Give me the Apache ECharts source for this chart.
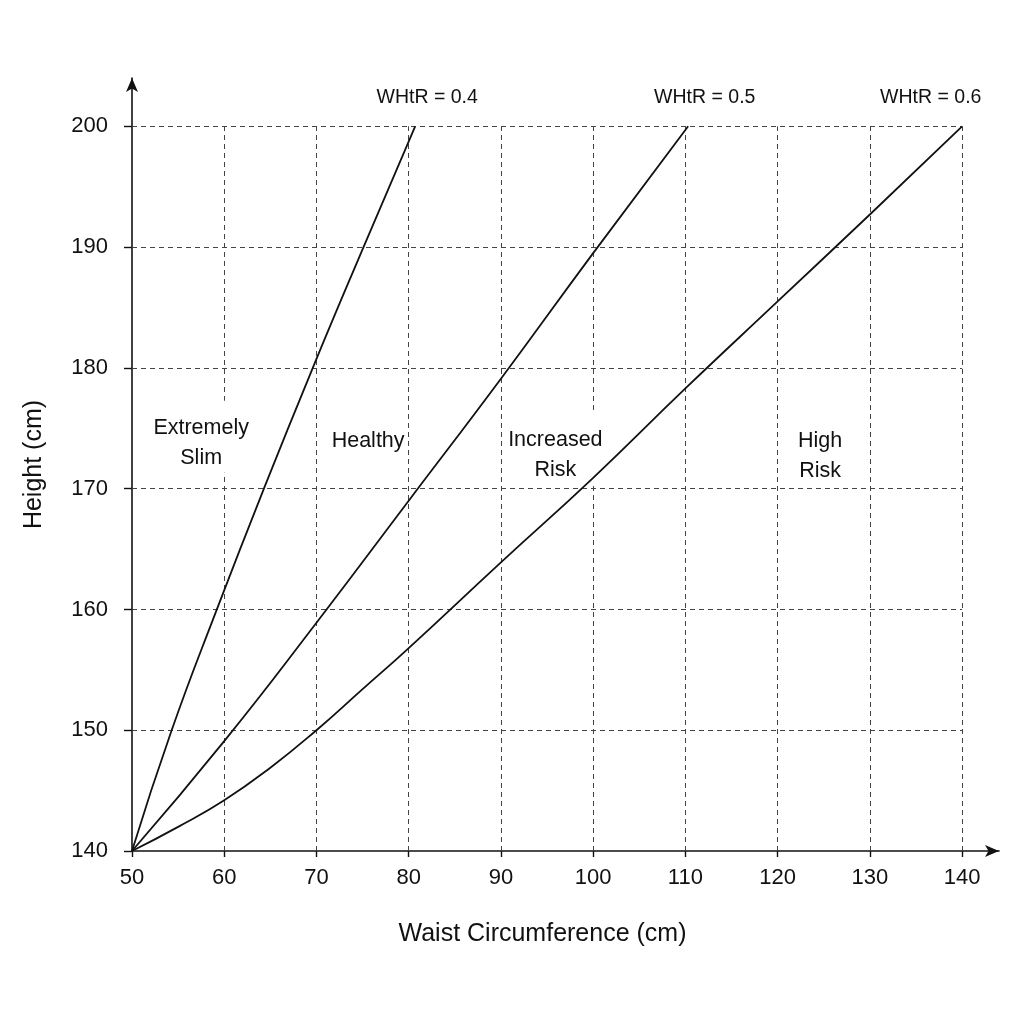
<!DOCTYPE html>
<html>
<head>
<meta charset="utf-8">
<script src="https://cdn.jsdelivr.net/npm/echarts@6/dist/echarts.min.js"></script>
<style>
  html, body { margin: 0; padding: 0; background: #fff; }
  #chart1 { width: 1024px; height: 1024px; }
</style>
</head>
<body>
<div id="chart1"></div>
<script>
// data: [waist cm, height cm]
var xTicks = [50, 60, 70, 80, 90, 100, 110, 120, 130, 140];
var yTicks = [140, 150, 160, 170, 180, 190, 200];

var whtr04 = [[50, 140], [54.3, 150], [59.2, 160], [64.3, 170], [69.6, 180], [75.1, 190], [80.7, 200]];
var whtr05 = [[50, 140], [60, 149.1], [70, 158.9], [80, 169.0], [90, 179.1], [100, 189.5], [110.3, 200]];
var whtr06 = [[50, 140], [55, 142.0], [60, 144.2], [65, 146.9], [70, 150], [75, 153.4], [80, 156.8], [90, 163.9], [100, 170.9], [110, 178.3], [120, 185.5], [130, 192.7], [140, 200]];

var lineNames = ['WHtR = 0.4', 'WHtR = 0.5', 'WHtR = 0.6'];
var lineNameX = [82.0, 112.1, 136.6];
var lineNameY = [202.4, 202.4, 202.4];

var zoneNames = ['Extremely\nSlim', 'Healthy', 'Increased\nRisk', 'High\nRisk'];
var zoneX = [57.5, 75.6, 95.9, 124.6];
var zoneY = [173.8, 173.9, 172.8, 172.7];

var chartDom = document.getElementById('chart1');
var myChart = echarts.init(chartDom);
var option;

var font = 'Liberation Sans, Arial, sans-serif';

// dashed grid only inside the 50-140 x 140-200 box
var gridLines = [];
xTicks.slice(1).forEach(function (x) {
    gridLines.push([{coord: [x, yTicks[0]]}, {coord: [x, yTicks[yTicks.length - 1]]}]);
});
yTicks.slice(1).forEach(function (y) {
    gridLines.push([{coord: [xTicks[0], y]}, {coord: [xTicks[xTicks.length - 1], y]}]);
});

function curve(name, data) {
    return {
        name: name,
        type: 'line',
        data: data,
        smooth: 0.5,
        showSymbol: false,
        z: 8,
        lineStyle: {color: '#111', width: 1.8}
    };
}

var measureCtx = document.createElement('canvas').getContext('2d');
function textWidth(str, size) {
    measureCtx.font = size + 'px ' + font;
    return Math.max.apply(null, str.split('\n').map(function (s) {
        return measureCtx.measureText(s).width;
    }));
}

// text placed at data coordinates, optionally on a white box
function textSeries(names, xs, ys, size, lineH, boxH) {
    return {
        type: 'custom',
        z: 4,
        silent: true,
        data: names.map(function (n, i) { return [xs[i], ys[i], i]; }),
        renderItem: function (params, api) {
            var pt = api.coord([api.value(0), api.value(1)]);
            var label = names[api.value(2)];
            var children = [];
            if (boxH) {
                var w = textWidth(label, size) + 6;
                children.push({
                    type: 'rect',
                    shape: {x: pt[0] - w / 2, y: pt[1] - boxH / 2 - 6, width: w, height: boxH},
                    style: {fill: '#fff'}
                });
            }
            children.push({
                type: 'text',
                x: pt[0],
                y: pt[1],
                style: {
                    text: label,
                    fill: '#111',
                    fontSize: size,
                    fontFamily: font,
                    lineHeight: lineH,
                    align: 'center',
                    verticalAlign: 'middle'
                }
            });
            return {type: 'group', children: children};
        }
    };
}

option = {
    animation: false,
    backgroundColor: '#fff',
    textStyle: {fontFamily: font},
    grid: {left: 132, right: 25, top: 78, bottom: 173},
    xAxis: {
        type: 'value',
        min: 50,
        max: 144,
        interval: 10,
        name: 'Waist Circumference (cm)',
        nameLocation: 'middle',
        nameGap: 71,
        nameTextStyle: {fontSize: 25, color: '#111', fontFamily: font, padding: [0, 46, 0, 0]},
        axisLine: {
            show: true,
            onZero: false,
            symbol: ['none', 'arrow'],
            symbolSize: [9, 14],
            lineStyle: {color: '#111', width: 1.6}
        },
        axisTick: {show: true, length: 6, customValues: xTicks, lineStyle: {color: '#111', width: 1.4}},
        axisLabel: {customValues: xTicks, fontSize: 22, color: '#111', margin: 16, fontFamily: font},
        splitLine: {show: false}
    },
    yAxis: {
        type: 'value',
        min: 140,
        max: 204,
        interval: 10,
        name: 'Height (cm)',
        nameLocation: 'middle',
        nameGap: 85,
        nameTextStyle: {fontSize: 25, color: '#111', fontFamily: font},
        axisLine: {
            show: true,
            onZero: false,
            symbol: ['none', 'arrow'],
            symbolSize: [9, 14],
            lineStyle: {color: '#111', width: 1.6}
        },
        axisTick: {show: true, length: 8, customValues: yTicks, lineStyle: {color: '#111', width: 1.4}},
        axisLabel: {customValues: yTicks, fontSize: 22, color: '#111', margin: 24, fontFamily: font},
        splitLine: {show: false}
    },
    series: [
        {
            name: 'grid',
            type: 'line',
            data: [],
            z: 1,
            silent: true,
            markLine: {
                z: 1,
                silent: true,
                symbol: ['none', 'none'],
                label: {show: false},
                lineStyle: {color: '#444', width: 1, type: [5, 4]},
                data: gridLines
            }
        },
        textSeries(zoneNames, zoneX, zoneY, 21.5, 30, 72),
        textSeries(lineNames, lineNameX, lineNameY, 19.5, 24, 0),
        curve(lineNames[0], whtr04),
        curve(lineNames[1], whtr05),
        curve(lineNames[2], whtr06)
    ]
};

option && myChart.setOption(option);
</script>
</body>
</html>
